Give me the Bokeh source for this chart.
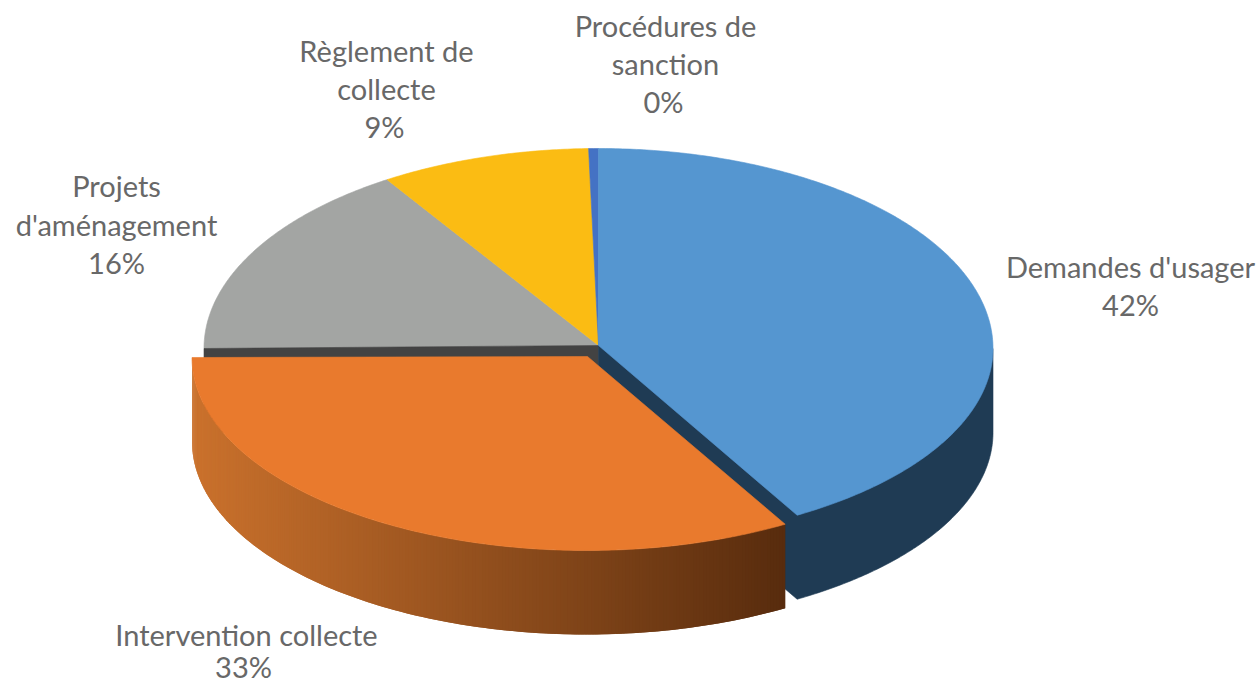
import math
from bokeh.plotting import figure
from bokeh.core.properties import value
from bokeh.embed import file_html
from bokeh.resources import INLINE

categories = ["Demandes d'usager", "Intervention collecte", "Projets d'aménagement", "Règlement de collecte", "Procédures de sanction"]
shares = [41.6, 33.4, 16.0, 8.6, 0.4]
percent_labels = ["42%", "33%", "16%", "9%", "0%"]
top_colors = ["#5596d0", "#e97a2d", "#a3a5a3", "#fbbc13", "#4472c4"]
label_lines = [["Demandes d'usager"], ["Intervention collecte"], ["Projets", "d'aménagement"],
               ["Règlement de", "collecte"], ["Procédures de", "sanction"]]

W, H = 1260, 684
p = figure(width=W, height=H, x_range=(0, W), y_range=(H, 0),
           output_backend="svg", toolbar_location=None, min_border=0)
p.axis.visible = False
p.grid.visible = False
p.outline_line_color = None

RX, RY_BACK, RY_FRONT, DEPTH = 394.5, 200.0, 193.0, 84.0


def pt(theta, cx, cy):
    r = math.radians(theta)
    c = math.cos(r)
    return cx + RX * math.sin(r), cy - (RY_BACK if c > 0 else RY_FRONT) * c


def arc(a, b, cx, cy):
    n = max(2, int(abs(b - a)) * 2)
    return [pt(a + (b - a) * i / n, cx, cy) for i in range(n + 1)]


def draw(points, color, outline=True):
    p.patch([q[0] for q in points], [q[1] for q in points], fill_color=color,
            line_color=color if outline else None, line_width=0.6)


# slice boundaries, clockwise from the top
bounds = [0.0]
for s in shares:
    bounds.append(bounds[-1] + s * 3.6)
A = list(zip(bounds[:-1], bounds[1:]))

CX, CY = 598.0, 348.0
TIP = (598.0, 345.0)
OX, OY = 586.0, 357.0
OTIP = (587.0, 356.0)

# rear slices
for i in (2, 3, 4):
    draw([TIP] + arc(A[i][0], A[i][1], CX, CY), top_colors[i])

# cut wall below the grey slice
left = pt(A[2][0], CX, CY)
draw([TIP, left, (left[0], left[1] + DEPTH), (TIP[0], TIP[1] + DEPTH)], "#434343")

# blue slice: outer and cut walls as a single shape, then its top
wall_blue = "#1f3b54"
outer = arc(90, A[0][1], CX, CY)
draw([TIP, outer[0]] + [(x, y + DEPTH) for x, y in outer] + [(TIP[0], TIP[1] + DEPTH)], wall_blue)
draw([TIP] + arc(A[0][0], A[0][1], CX, CY), top_colors[0])


# orange slice, exploded, shaded wall
def shade(x):
    t = min(1, max(0, (x - 191) / (785 - 191)))
    a, b = (0xcb, 0x72, 0x2d), (0x58, 0x2c, 0x0e)
    return "#%02x%02x%02x" % tuple(int(a[k] + (b[k] - a[k]) * t) for k in range(3))


rim = arc(A[1][1], A[1][0], OX, OY)  # left to right, each strip overlaps the next one
for j in range(len(rim) - 1):
    q0, q1 = rim[j], rim[min(j + 2, len(rim) - 1)]
    draw([q0, q1, (q1[0], q1[1] + DEPTH), (q0[0], q0[1] + DEPTH)], shade(rim[j][0]), outline=False)
draw([OTIP] + rim, top_colors[1])

# labels
line_x = [[1130], [246], [116, 116], [386, 386], [665, 665]]
line_y = [[266], [634], [185, 224], [50, 88], [25, 63]]
pct_x = [1130, 243, 116, 384, 663]
pct_y = [304, 666, 262, 126, 101]
xs, ys, ts = [], [], []
for i, lines in enumerate(label_lines):
    for t, x, y in zip(lines, line_x[i], line_y[i]):
        xs.append(x); ys.append(y); ts.append(t)
    xs.append(pct_x[i]); ys.append(pct_y[i]); ts.append(percent_labels[i])
p.text(xs, ys, text=ts, text_font=value("Lato"), text_font_size="29px", text_color="#686868",
       text_align="center", text_baseline="middle")

open("out.html", "w").write(file_html(p, INLINE))
